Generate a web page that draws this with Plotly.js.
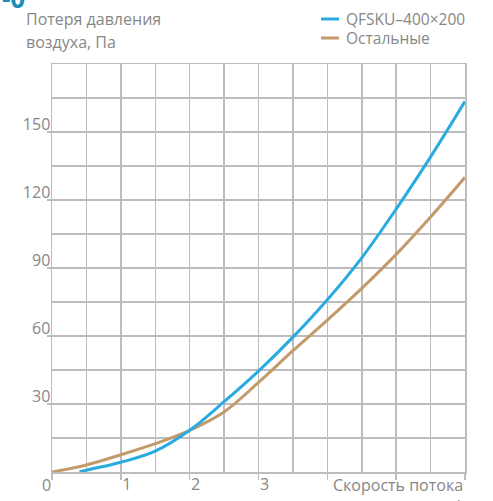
<!DOCTYPE html>
<html><head><meta charset="utf-8">
<script src="https://cdn.plot.ly/plotly-3.0.1.min.js"></script>
<style>html,body{margin:0;padding:0;background:#fff;}#chart{width:493px;height:501px;}</style>
</head><body><div id="chart"></div>
<script>
// Flow velocity (m/s) and pressure loss (Pa)
const qfskuX = [0.4, 0.5, 1.0, 1.5, 2.0, 2.5, 3.0, 3.5, 4.0, 4.5, 5.0, 5.5, 6.0];
const qfskuY = [0, 0.8, 4.3, 9.2, 18.4, 31, 44.5, 59.5, 76, 94.5, 116, 139, 163.5];
const otherX = [0, 0.5, 1.0, 1.5, 2.0, 2.5, 3.0, 3.5, 4.0, 4.5, 5.0, 5.5, 6.0];
const otherY = [0, 3.1, 7.6, 12.5, 18.4, 26.5, 39.5, 53.5, 67, 81, 96, 112.5, 130];
const seriesNames = ["QFSKU–400×200", "Остальные"];
const xTickVals = [0, 1, 2, 3, 4, 5, 6];
const xTickText = ["", "1", "2", "3", "", "", ""];
const yTickVals = [30, 60, 90, 120, 150];
const yTickText = ["30", "60", "90", "120", "150"];
const yTitleLines = ["Потеря давления", "воздуха, Па"];
const xTitle = "Скорость потока";
const xTitle2 = "м/с";

const blue = "#29abe2", brown = "#c39a6b", grid = "#bdbdbd", txt = "#878787";
const font = "Open Sans, Noto Sans, sans-serif";

const traces = [
  {x: otherX, y: otherY, name: seriesNames[1], mode: "lines", line: {color: brown, width: 3, shape: "spline", smoothing: 1}},
  {x: qfskuX, y: qfskuY, name: seriesNames[0], mode: "lines", line: {color: blue, width: 3, shape: "spline", smoothing: 1}}
];

const layout = {
  width: 493, height: 501,
  margin: {l: 52, r: 28, t: 64, b: 29},
  paper_bgcolor: "#fff", plot_bgcolor: "#fff",
  showlegend: false,
  font: {family: font, color: txt, size: 15},
  xaxis: {
    range: [0, 6], tickmode: "array", tickvals: xTickVals, ticktext: xTickText,
    showgrid: true, gridcolor: grid, gridwidth: 1.5,
    minor: {dtick: 0.5, showgrid: true, gridcolor: grid, gridwidth: 1.5, ticks: ""},
    ticks: "outside", ticklen: 6, tickwidth: 1.5, tickcolor: grid,
    ticklabelshift: 6, ticklabelstandoff: -9,
    showline: true, mirror: true, linecolor: grid, linewidth: 1.5,
    zeroline: false, fixedrange: true,
    tickfont: {family: font, color: txt, size: 16}
  },
  yaxis: {
    range: [0, 180], tickmode: "array", tickvals: yTickVals, ticktext: yTickText,
    showgrid: true, gridcolor: grid, gridwidth: 1.5,
    minor: {dtick: 15, showgrid: true, gridcolor: grid, gridwidth: 1.5, ticks: ""},
    ticks: "outside", ticklen: 4, tickwidth: 1.5, tickcolor: grid,
    ticklabelshift: -8, ticklabelstandoff: -7,
    showline: true, mirror: true, linecolor: grid, linewidth: 1.5,
    zeroline: false, fixedrange: true,
    tickfont: {family: font, color: txt, size: 16}
  },
  shapes: [
    {type: "line", xref: "paper", yref: "paper", x0: 269/413, x1: 287/413, y0: 1 + 45/408, y1: 1 + 45/408, line: {color: blue, width: 3}},
    {type: "line", xref: "paper", yref: "paper", x0: 269/413, x1: 287/413, y0: 1 + 26/408, y1: 1 + 26/408, line: {color: brown, width: 3}}
  ],
  annotations: [
    {text: "-0", xref: "paper", yref: "paper", x: -52/413, y: 1 + 46/408, xanchor: "left", yanchor: "bottom", showarrow: false,
     font: {family: font, size: 26, color: "#1e8db8", weight: 700}},
    {text: yTitleLines[0], xref: "paper", yref: "paper", x: -28/413, y: 1 + 45/408, xanchor: "left", yanchor: "middle", showarrow: false, font: {size: 16}},
    {text: yTitleLines[1], xref: "paper", yref: "paper", x: -28/413, y: 1 + 22/408, xanchor: "left", yanchor: "middle", showarrow: false, font: {size: 16}},
    {text: seriesNames[0], xref: "paper", yref: "paper", x: 292/413, y: 1 + 45/408, xanchor: "left", yanchor: "middle", showarrow: false, font: {size: 15.5}},
    {text: seriesNames[1], xref: "paper", yref: "paper", x: 292/413, y: 1 + 26/408, xanchor: "left", yanchor: "middle", showarrow: false, font: {size: 15.5}},
    {text: "0", xref: "x", yref: "paper", x: 0, y: -13/408, xanchor: "center", yanchor: "middle", xshift: -6, showarrow: false, font: {size: 16}},
    {text: xTitle, xref: "paper", yref: "paper", x: 1, y: -13/408, xanchor: "right", yanchor: "middle", showarrow: false, font: {size: 16}},
    {text: xTitle2, xref: "paper", yref: "paper", x: 403/413, y: -34/408, xanchor: "center", yanchor: "middle", showarrow: false, font: {size: 16}}
  ]
};
Plotly.newPlot("chart", traces, layout, {displayModeBar: false, staticPlot: true});
</script></body></html>
